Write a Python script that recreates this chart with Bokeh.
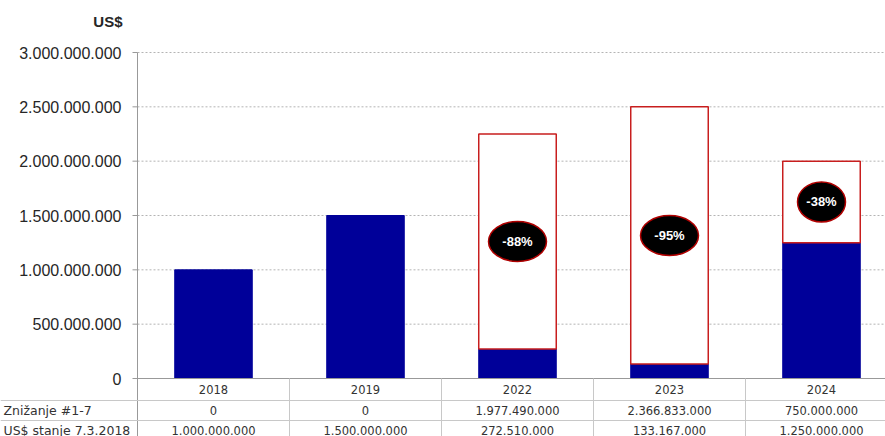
from bokeh.plotting import figure
from bokeh.models import Range1d, ColumnDataSource
from bokeh.core.properties import value
from bokeh.embed import file_html
from bokeh.resources import INLINE

# ---------------- data ----------------
years = ["2018", "2019", "2022", "2023", "2024"]
znizanje = [0, 0, 1977490000, 2366833000, 750000000]          # Znižanje #1-7
stanje = [1000000000, 1500000000, 272510000, 133167000, 1250000000]  # US$ stanje 7.3.2018
y_ticks = [0, 500000000, 1000000000, 1500000000, 2000000000, 2500000000, 3000000000]
row_labels = ["Znižanje #1-7", "US$ stanje 7.3.2018"]
unit_label = "US$"


def fmt(v):
    return f"{v:,}".replace(",", ".")


# ---------------- layout (reference pixels -> data units) ----------------
W, H = 885, 436
REF_W = 885
COL = 152.0            # reference px per category column
AXIS_X_REF = 137.0     # reference px of the y axis
Y_MAX = y_ticks[-1]
PXY = Y_MAX / 326.0    # value per reference px vertically
TOP_REF, ZERO_REF, BOT_REF = 52.0, 378.0, 436.0

x_start = -0.5 - AXIS_X_REF / COL
x_end = x_start + REF_W / COL
y_end = Y_MAX + TOP_REF * PXY
y_start = -(BOT_REF - ZERO_REF) * PXY
ax = -0.5

p = figure(width=W, height=H, output_backend="svg", toolbar_location=None,
           x_range=Range1d(x_start, x_end), y_range=Range1d(y_start, y_end),
           x_axis_type=None, y_axis_type=None, min_border=0)
p.outline_line_color = None
p.background_fill_color = "white"
p.border_fill_color = "white"

idx = list(range(len(years)))

# grid lines (dotted)
gt = y_ticks[1:]
p.segment(x0=[ax] * len(gt), x1=[x_end] * len(gt), y0=gt, y1=gt,
          line_color="#b4b4b4", line_width=1, line_dash="2 2")

# bars
p.vbar(x=idx, top=stanje, bottom=0, width=0.51, fill_color="#000099", line_color="#000099")

red_x = [i for i in idx if znizanje[i] > 0]
red_bot = [stanje[i] for i in red_x]
red_top = [stanje[i] + znizanje[i] for i in red_x]
p.vbar(x=red_x, bottom=red_bot, top=red_top, width=0.51,
       fill_color="white", line_color="#c81e1e", line_width=1.5)

# percentage badges
badge_w = [58, 58, 48]
pct = [f"-{round(znizanje[i] / (stanje[i] + znizanje[i]) * 100)}%" for i in red_x]
mid = [stanje[i] + znizanje[i] / 2 for i in red_x]
bsrc = ColumnDataSource(dict(x=red_x, y=mid, w=badge_w[:len(red_x)], t=pct))
p.ellipse(x="x", y="y", width="w", height=40, width_units="screen", height_units="screen",
          source=bsrc, fill_color="black", line_color="#b00000", line_width=1.5)
p.text(x="x", y="y", text="t", source=bsrc, text_color="white",
       text_font=value("Liberation Sans"), text_font_style="bold", text_font_size="13px",
       text_align="center", text_baseline="middle")

# y axis line, ticks, labels
p.segment(x0=[ax], x1=[ax], y0=[y_start], y1=[Y_MAX], line_color="#999999", line_width=1)
p.segment(x0=[ax - 5 / COL] * len(y_ticks), x1=[ax] * len(y_ticks), y0=y_ticks, y1=y_ticks,
          line_color="#999999", line_width=1)
p.text(x=[ax] * len(y_ticks), y=y_ticks, text=[fmt(t) for t in y_ticks], x_offset=-16,
       text_font=value("Liberation Sans"), text_font_size="16px", text_color="#262626",
       text_align="right", text_baseline="middle")
p.text(x=[ax], y=[Y_MAX + 31 * PXY], text=[unit_label], x_offset=-15,
       text_font=value("Liberation Sans"), text_font_size="15px", text_font_style="bold",
       text_color="#262626", text_align="right", text_baseline="middle")

# x axis line / table top
p.segment(x0=[ax], x1=[x_end], y0=[0], y1=[0], line_color="#999999", line_width=1)

# table grid
row_lines = [-22 * PXY, -42 * PXY]
p.segment(x0=[x_start] * 2, x1=[x_end] * 2, y0=row_lines, y1=row_lines,
          line_color="#c8c8c8", line_width=1)
seps = [i + 0.5 for i in idx]
p.segment(x0=seps, x1=seps, y0=[0] * len(seps), y1=[y_start] * len(seps),
          line_color="#c8c8c8", line_width=1)

# table texts
tfont = value("DejaVu Sans")
p.text(x=idx, y=[-11 * PXY] * len(idx), text=years, text_font=tfont, text_font_size="11.5px",
       text_color="#333333", text_align="center", text_baseline="middle")
p.text(x=idx, y=[-32 * PXY] * len(idx), text=[fmt(v) for v in znizanje], text_font=tfont,
       text_font_size="11.5px", text_color="#333333", text_align="center", text_baseline="middle")
p.text(x=idx, y=[-51.5 * PXY] * len(idx), text=[fmt(v) for v in stanje], text_font=tfont,
       text_font_size="11.5px", text_color="#333333", text_align="center", text_baseline="middle")
p.text(x=[x_start + 3 / COL] * 2, y=[-32 * PXY, -51.5 * PXY], text=row_labels, text_font=tfont,
       text_font_size="12.5px", text_color="#333333", text_align="left", text_baseline="middle")

open("out.html", "w").write(file_html(p, INLINE))
